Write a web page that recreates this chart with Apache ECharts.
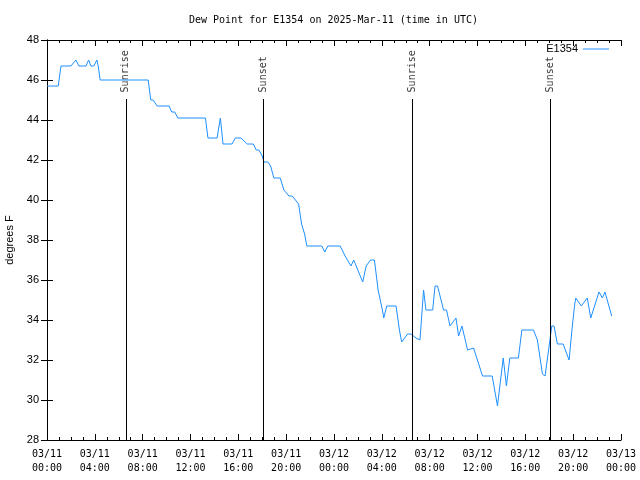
<!DOCTYPE html>
<html><head><meta charset="utf-8">
<script src="https://cdn.jsdelivr.net/npm/echarts@6/dist/echarts.min.js"></script>
<style>html,body{margin:0;padding:0;background:#fff}#c{width:640px;height:480px}</style>
</head><body><div id="c"></div>
<script>
// hours since 2025-03-11 00:00 UTC
const hours = [0.00,0.94,1.17,2.00,2.42,2.67,3.26,3.48,3.67,3.92,4.17,4.28,4.45,8.46,8.68,8.87,9.21,10.21,10.43,10.68,10.94,13.25,13.46,14.22,14.50,14.72,15.47,15.75,16.22,16.74,17.25,17.50,17.72,18.00,18.14,18.47,18.70,18.97,19.50,19.81,20.23,20.51,21.04,21.29,21.54,21.73,22.98,23.23,23.48,24.52,24.93,25.42,25.65,26.40,26.69,27.05,27.38,27.69,28.08,28.16,28.41,29.19,29.47,29.66,30.16,30.44,30.86,31.19,31.49,31.69,32.25,32.45,32.66,33.16,33.41,33.70,34.20,34.42,34.70,35.17,35.67,36.42,37.23,37.67,38.15,38.42,38.70,39.42,39.71,40.68,41.01,41.43,41.65,41.99,42.21,42.40,42.68,43.16,43.66,43.93,44.13,44.22,44.68,45.18,45.47,46.16,46.44,46.66,47.22];
const dewF = [45.7,45.7,46.7,46.7,47.0,46.7,46.7,47.0,46.7,46.7,47.0,46.7,46.0,46.0,45.0,45.0,44.7,44.7,44.4,44.4,44.1,44.1,43.1,43.1,44.1,42.8,42.8,43.1,43.1,42.8,42.8,42.5,42.5,42.2,41.9,41.9,41.7,41.1,41.1,40.5,40.2,40.2,39.8,38.8,38.3,37.7,37.7,37.4,37.7,37.7,37.2,36.7,37.0,35.9,36.7,37.0,37.0,35.5,34.4,34.1,34.7,34.7,33.5,32.9,33.3,33.3,33.1,33.0,35.5,34.5,34.5,35.7,35.7,34.5,34.5,33.7,34.1,33.2,33.7,32.5,32.6,31.2,31.2,29.7,32.1,30.7,32.1,32.1,33.5,33.5,33.0,31.3,31.2,32.7,33.7,33.7,32.8,32.8,32.0,33.7,34.8,35.1,34.7,35.1,34.1,35.4,35.1,35.4,34.2];
const eventHours = [6.59, 18.11, 30.55, 42.10];
const eventLabels = ['Sunrise', 'Sunset', 'Sunrise', 'Sunset'];
const seriesName = 'E1354';
const titleText = 'Dew Point for E1354 on 2025-Mar-11 (time in UTC)';
const yName = 'degrees F';

const lineTop = 45.05, labelBase = 45.38;
const mono = 'DejaVu Sans Mono';
const sans = 'Liberation Sans';
const blue = '#1e90ff';
function xLabel(h){
  const d = 11 + Math.floor(h/24);
  const hh = Math.round(h % 24);
  return '03/' + String(d).padStart(2,'0') + '\n' + String(hh).padStart(2,'0') + ':00';
}
const chart = echarts.init(document.getElementById('c'), null, {renderer:'canvas'});
const axisLine = {show:true, lineStyle:{color:'#000', width:1}};
chart.setOption({
  animation:false,
  backgroundColor:'#fff',
  title:{text:titleText, left:189, top:15, padding:0,
    textStyle:{fontFamily:mono, fontSize:10, fontWeight:'normal', color:'#000'}},
  legend:{show:true, data:[{name:seriesName, icon:'rect'}], right:31, top:43.5, padding:0, itemWidth:26, itemHeight:1, align:'right', itemGap:5,
    selectedMode:false,
    itemStyle:{color:blue},
    textStyle:{fontFamily:sans, fontSize:11, color:'#000'}},
  grid:{left:47, right:19, top:40, bottom:40, containLabel:false, outerBoundsMode:'none'},
  xAxis:[{type:'value', min:0, max:48, interval:4, position:'bottom',
      axisLine:axisLine, splitLine:{show:false},
      axisTick:{inside:true, length:6, lineStyle:{color:'#000'}},
      minorTick:{show:true, splitNumber:4, length:3, lineStyle:{color:'#000'}},
      axisLabel:{formatter:xLabel, fontFamily:mono, fontSize:10, color:'#000', lineHeight:14, margin:7}},
    {type:'value', min:0, max:48, interval:4, position:'top',
      axisLine:axisLine, splitLine:{show:false},
      axisTick:{inside:true, length:6, lineStyle:{color:'#000'}},
      minorTick:{show:true, splitNumber:4, length:3, lineStyle:{color:'#000'}},
      axisLabel:{show:false}}],
  yAxis:[{type:'value', min:28, max:48, interval:2, position:'left',
      name:yName, nameLocation:'middle', nameGap:32, nameRotate:90,
      nameTextStyle:{fontFamily:sans, fontSize:11, color:'#000'},
      axisLine:axisLine, splitLine:{show:false},
      axisTick:{inside:true, length:6, lineStyle:{color:'#000'}},
      axisLabel:{fontFamily:sans, fontSize:11, color:'#000', margin:8}},
    {type:'value', min:28, max:48, interval:2, position:'right',
      axisLine:axisLine, splitLine:{show:false},
      axisTick:{inside:true, length:6, lineStyle:{color:'#000'}},
      axisLabel:{show:false}}],
  series:[
    {name:seriesName, type:'line', xAxisIndex:0, yAxisIndex:0,
      data:hours.map((h,i)=>[h, dewF[i]]), showSymbol:false, symbol:'none',
      lineStyle:{color:blue, width:1}, itemStyle:{color:blue}},
    {name:'events', type:'scatter', xAxisIndex:0, yAxisIndex:0, symbolSize:0, silent:true,
      data:eventHours.map((h,i)=>({value:[h, labelBase], name:eventLabels[i]})),
      label:{show:true, position:'inside', formatter:p=>p.name, rotate:90, align:'left', verticalAlign:'middle',
        fontFamily:mono, fontSize:10, color:'#000'},
      markLine:{silent:true, symbol:['none','none'], animation:false,
        lineStyle:{color:'#000', width:1, type:'solid'}, label:{show:false},
        data:eventHours.map(h=>[{coord:[h, lineTop]},{coord:[h, 28]}])}}
  ]
});
</script></body></html>
